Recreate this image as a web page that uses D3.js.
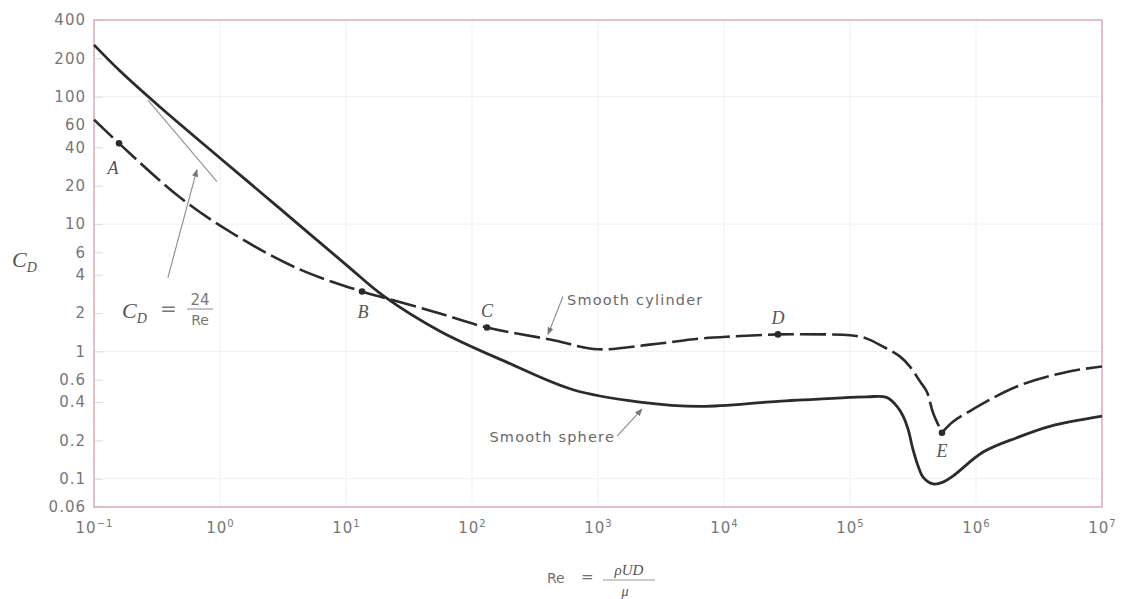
<!DOCTYPE html>
<html>
<head>
<meta charset="utf-8">
<script src="https://cdn.jsdelivr.net/npm/d3@7"></script>
<style>
  body { margin: 0; background: #fff; }
  svg { display: block; }
  .tick text { fill: #777; font-family: "DejaVu Sans", sans-serif; font-size: 15px; letter-spacing: 1px; }
  .lbl { font-family: "Liberation Serif", serif; font-style: italic; fill: #555; }
  .note { font-family: "DejaVu Sans", sans-serif; font-size: 14.5px; fill: #6a6a6a; letter-spacing: 1.2px; }
</style>
</head>
<body>
<script>
const svgWidth = 1135,
  svgHeight = 599,
  plotLeft = 94,
  plotRight = 1102,
  plotTop = 20,
  plotBottom = 507,
  lineColor = '#2b2b2b',
  textColor = '#707070',
  frameColor = '#dcaab3';

// tick values
const yTicks = [400, 200, 100, 60, 40, 20, 10, 6, 4, 2, 1, 0.6, 0.4, 0.2, 0.1, 0.06];
const xTicks = [1e-1, 1e0, 1e1, 1e2, 1e3, 1e4, 1e5, 1e6, 1e7];

// smooth sphere (solid)
const sphereRe = [0.1, 0.161, 0.334, 1.037, 2.99, 10.2, 19.7, 55.7, 190, 634, 2150, 6460, 2.68e4, 1.36e5, 1.95e5,
  2.36e5, 2.64e5, 2.89e5, 3.16e5, 3.47e5, 3.8e5, 4.56e5, 5.47e5, 6.56e5, 1.14e6, 2.11e6, 3.86e6, 1e7];
const sphereCd = [255, 159, 83, 32, 13.2, 4.72, 2.74, 1.44, 0.82, 0.50, 0.40, 0.37, 0.405, 0.44, 0.435,
  0.37, 0.31, 0.245, 0.17, 0.126, 0.103, 0.091, 0.094, 0.105, 0.162, 0.21, 0.258, 0.31];

// smooth cylinder (dashed)
const cylRe = [0.1, 0.158, 0.48, 1.2, 4.08, 13.4, 19.7, 49, 131.5, 417, 1000, 2570, 6460, 1.18e4,
  2.68e4, 6.1e4, 1e5, 1.36e5, 1.83e5, 2.5e5, 2.99e5, 3.6e5, 4.08e5, 4.56e5, 5.37e5,
  6.56e5, 8.5e5, 2.11e6, 5.27e6, 1e7];
const cylCd = [66, 43, 16.2, 8.7, 4.5, 2.95, 2.65, 2.06, 1.54, 1.24, 1.04, 1.13, 1.26, 1.31,
  1.36, 1.36, 1.34, 1.26, 1.09, 0.91, 0.76, 0.58, 0.48, 0.33, 0.23,
  0.28, 0.33, 0.53, 0.69, 0.76];
const cylBreak = 24; // index of point E, where the curve has a corner

// Stokes line C_D = 24/Re, as drawn
const stokesRe = [0.268, 0.946];
const stokesCd = [94, 21.5];

// lettered points on the cylinder curve
const pointNames = ['A', 'B', 'C', 'D', 'E'];
const pointIdx = [1, 5, 8, 14, 24];

const svg = d3.select('body')
  .append('svg')
  .attr('width', svgWidth)
  .attr('height', svgHeight);

const xScale = d3.scaleLog()
  .domain([0.1, 1e7])
  .range([plotLeft, plotRight]);

const yScale = d3.scaleLog()
  .domain([0.06, 400])
  .range([plotBottom, plotTop]);

svg.append('defs').append('marker')
  .attr('id', 'arrow')
  .attr('viewBox', '0 0 10 10')
  .attr('refX', 9)
  .attr('refY', 5)
  .attr('markerWidth', 7)
  .attr('markerHeight', 7)
  .attr('orient', 'auto')
  .append('path')
  .attr('d', 'M0,1 L10,5 L0,9 z')
  .attr('fill', '#777');

// faint paper grid
svg.append('g')
  .selectAll('line')
  .data(xTicks.slice(1, -1))
  .join('line')
  .attr('x1', d => xScale(d)).attr('x2', d => xScale(d))
  .attr('y1', plotTop).attr('y2', plotBottom)
  .attr('stroke', '#f2f0f1');

svg.append('g')
  .selectAll('line')
  .data([100, 10, 1, 0.1])
  .join('line')
  .attr('x1', plotLeft).attr('x2', plotRight)
  .attr('y1', d => yScale(d)).attr('y2', d => yScale(d))
  .attr('stroke', '#f2f0f1');

// short inner ticks on the left border
svg.append('g')
  .call(d3.axisRight(yScale).tickValues(yTicks).tickSize(9).tickFormat(''))
  .attr('transform', `translate(${plotLeft}, 0)`)
  .call(g => g.select('.domain').remove())
  .call(g => g.selectAll('line').attr('stroke', '#dddddd'));

// y axis labels
svg.append('g')
  .call(d3.axisLeft(yScale).tickValues(yTicks).tickSize(0).tickPadding(8)
    .tickFormat(d => String(d)))
  .attr('transform', `translate(${plotLeft}, 0)`)
  .call(g => g.select('.domain').remove());

// x axis labels with superscripts
svg.append('g')
  .call(d3.axisBottom(xScale).tickValues(xTicks).tickSize(0).tickPadding(15).tickFormat(''))
  .attr('transform', `translate(0, ${plotBottom})`)
  .call(g => g.select('.domain').remove())
  .selectAll('.tick text')
  .each(function (d) {
    const t = d3.select(this);
    t.text('10');
    t.append('tspan')
      .attr('dy', '-0.55em')
      .style('font-size', '10px')
      .text(String(Math.round(Math.log10(d))).replace('-', '\u2212'));
  });

// frame
svg.append('rect')
  .attr('x', plotLeft)
  .attr('y', plotTop)
  .attr('width', plotRight - plotLeft)
  .attr('height', plotBottom - plotTop)
  .attr('fill', 'none')
  .attr('stroke', frameColor)
  .attr('stroke-width', 1.5);

const curve = d3.line()
  .x(d => xScale(d[0]))
  .y(d => yScale(d[1]))
  .curve(d3.curveCatmullRom.alpha(0.5));

const spherePts = sphereRe.map((r, i) => [r, sphereCd[i]]);
const cylPts = cylRe.map((r, i) => [r, cylCd[i]]);

// Stokes line
svg.append('path')
  .attr('d', d3.line().x(d => xScale(d[0])).y(d => yScale(d[1]))(stokesRe.map((r, i) => [r, stokesCd[i]])))
  .attr('stroke', '#9a9a9a')
  .attr('stroke-width', 1.3)
  .attr('fill', 'none');

svg.append('path')
  .attr('d', curve(spherePts))
  .attr('stroke', lineColor)
  .attr('stroke-width', 2.8)
  .attr('fill', 'none');

[cylPts.slice(0, cylBreak + 1), cylPts.slice(cylBreak)].forEach(seg => {
  svg.append('path')
    .attr('d', curve(seg))
    .attr('stroke', lineColor)
    .attr('stroke-width', 2.6)
    .attr('stroke-dasharray', '26,6')
    .attr('fill', 'none');
});

// lettered points
const letterOffset = { A: [-6, 31], B: [1, 26], C: [0, -11], D: [0, -10], E: [0, 24] };

svg.append('g')
  .selectAll('circle')
  .data(pointIdx)
  .join('circle')
  .attr('cx', i => xScale(cylRe[i]))
  .attr('cy', i => yScale(cylCd[i]))
  .attr('r', 3.3)
  .attr('fill', lineColor);

svg.append('g')
  .selectAll('text')
  .data(pointIdx)
  .join('text')
  .attr('class', 'lbl')
  .attr('x', (i, k) => xScale(cylRe[i]) + letterOffset[pointNames[k]][0])
  .attr('y', (i, k) => yScale(cylCd[i]) + letterOffset[pointNames[k]][1])
  .attr('text-anchor', 'middle')
  .style('font-size', '18px')
  .text((i, k) => pointNames[k]);

// leader arrows (data-space anchors)
const leaders = [
  { from: [0.386, 3.8], to: [0.656, 26.7] },
  { from: [527, 2.70], to: [401, 1.36] },
  { from: [1416, 0.216], to: [2234, 0.352] }
];

svg.append('g')
  .selectAll('line')
  .data(leaders)
  .join('line')
  .attr('x1', d => xScale(d.from[0]))
  .attr('y1', d => yScale(d.from[1]))
  .attr('x2', d => xScale(d.to[0]))
  .attr('y2', d => yScale(d.to[1]))
  .attr('stroke', '#8a8a8a')
  .attr('stroke-width', 1.1)
  .attr('marker-end', 'url(#arrow)');

svg.append('text')
  .attr('class', 'note')
  .attr('x', xScale(568))
  .attr('y', yScale(2.33))
  .text('Smooth cylinder');

svg.append('text')
  .attr('class', 'note')
  .attr('x', xScale(1365))
  .attr('y', yScale(0.194))
  .attr('text-anchor', 'end')
  .text('Smooth sphere');

// C_D = 24/Re
const stokesLabel = svg.append('g').attr('transform', 'translate(122, 318)');
stokesLabel.append('text').attr('class', 'lbl').style('font-size', '22px').attr('fill', '#666')
  .text('C')
  .append('tspan').attr('dy', 5).style('font-size', '14px').text('D');
stokesLabel.append('text').attr('x', 38).attr('y', -3).style('font-size', '20px')
  .style('font-family', 'DejaVu Sans, sans-serif').attr('fill', '#777').text('=');
stokesLabel.append('text').attr('x', 78).attr('y', -13).attr('text-anchor', 'middle')
  .style('font-size', '15px').style('font-family', 'DejaVu Sans, sans-serif').attr('fill', '#777').text('24');
stokesLabel.append('line').attr('x1', 65).attr('x2', 91).attr('y1', -9).attr('y2', -9)
  .attr('stroke', '#888').attr('stroke-width', 1);
stokesLabel.append('text').attr('x', 78).attr('y', 7).attr('text-anchor', 'middle')
  .style('font-size', '14px').style('font-family', 'DejaVu Sans, sans-serif').attr('fill', '#777').text('Re');

// y axis title
svg.append('text')
  .attr('class', 'lbl')
  .attr('x', 12)
  .attr('y', 267)
  .style('font-size', '22px')
  .attr('fill', '#666')
  .text('C')
  .append('tspan').attr('dy', 5).style('font-size', '14px').text('D');

// x axis title: Re = ρUD / μ
const xTitle = svg.append('g').attr('transform', 'translate(547, 583)');
xTitle.append('text').style('font-family', 'DejaVu Sans, sans-serif').style('font-size', '14px')
  .attr('fill', textColor).text('Re');
xTitle.append('text').attr('x', 34).attr('y', -1).style('font-family', 'DejaVu Sans, sans-serif')
  .style('font-size', '15px').attr('fill', textColor).text('=');
xTitle.append('text').attr('class', 'lbl').attr('x', 82).attr('y', -8).attr('text-anchor', 'middle')
  .style('font-size', '15px').text('\u03c1UD');
xTitle.append('line').attr('x1', 56).attr('x2', 108).attr('y1', -3).attr('y2', -3)
  .attr('stroke', '#999').attr('stroke-width', 1);
xTitle.append('text').attr('class', 'lbl').attr('x', 78).attr('y', 13).attr('text-anchor', 'middle')
  .style('font-size', '14px').text('\u03bc');
</script>
</body>
</html>
